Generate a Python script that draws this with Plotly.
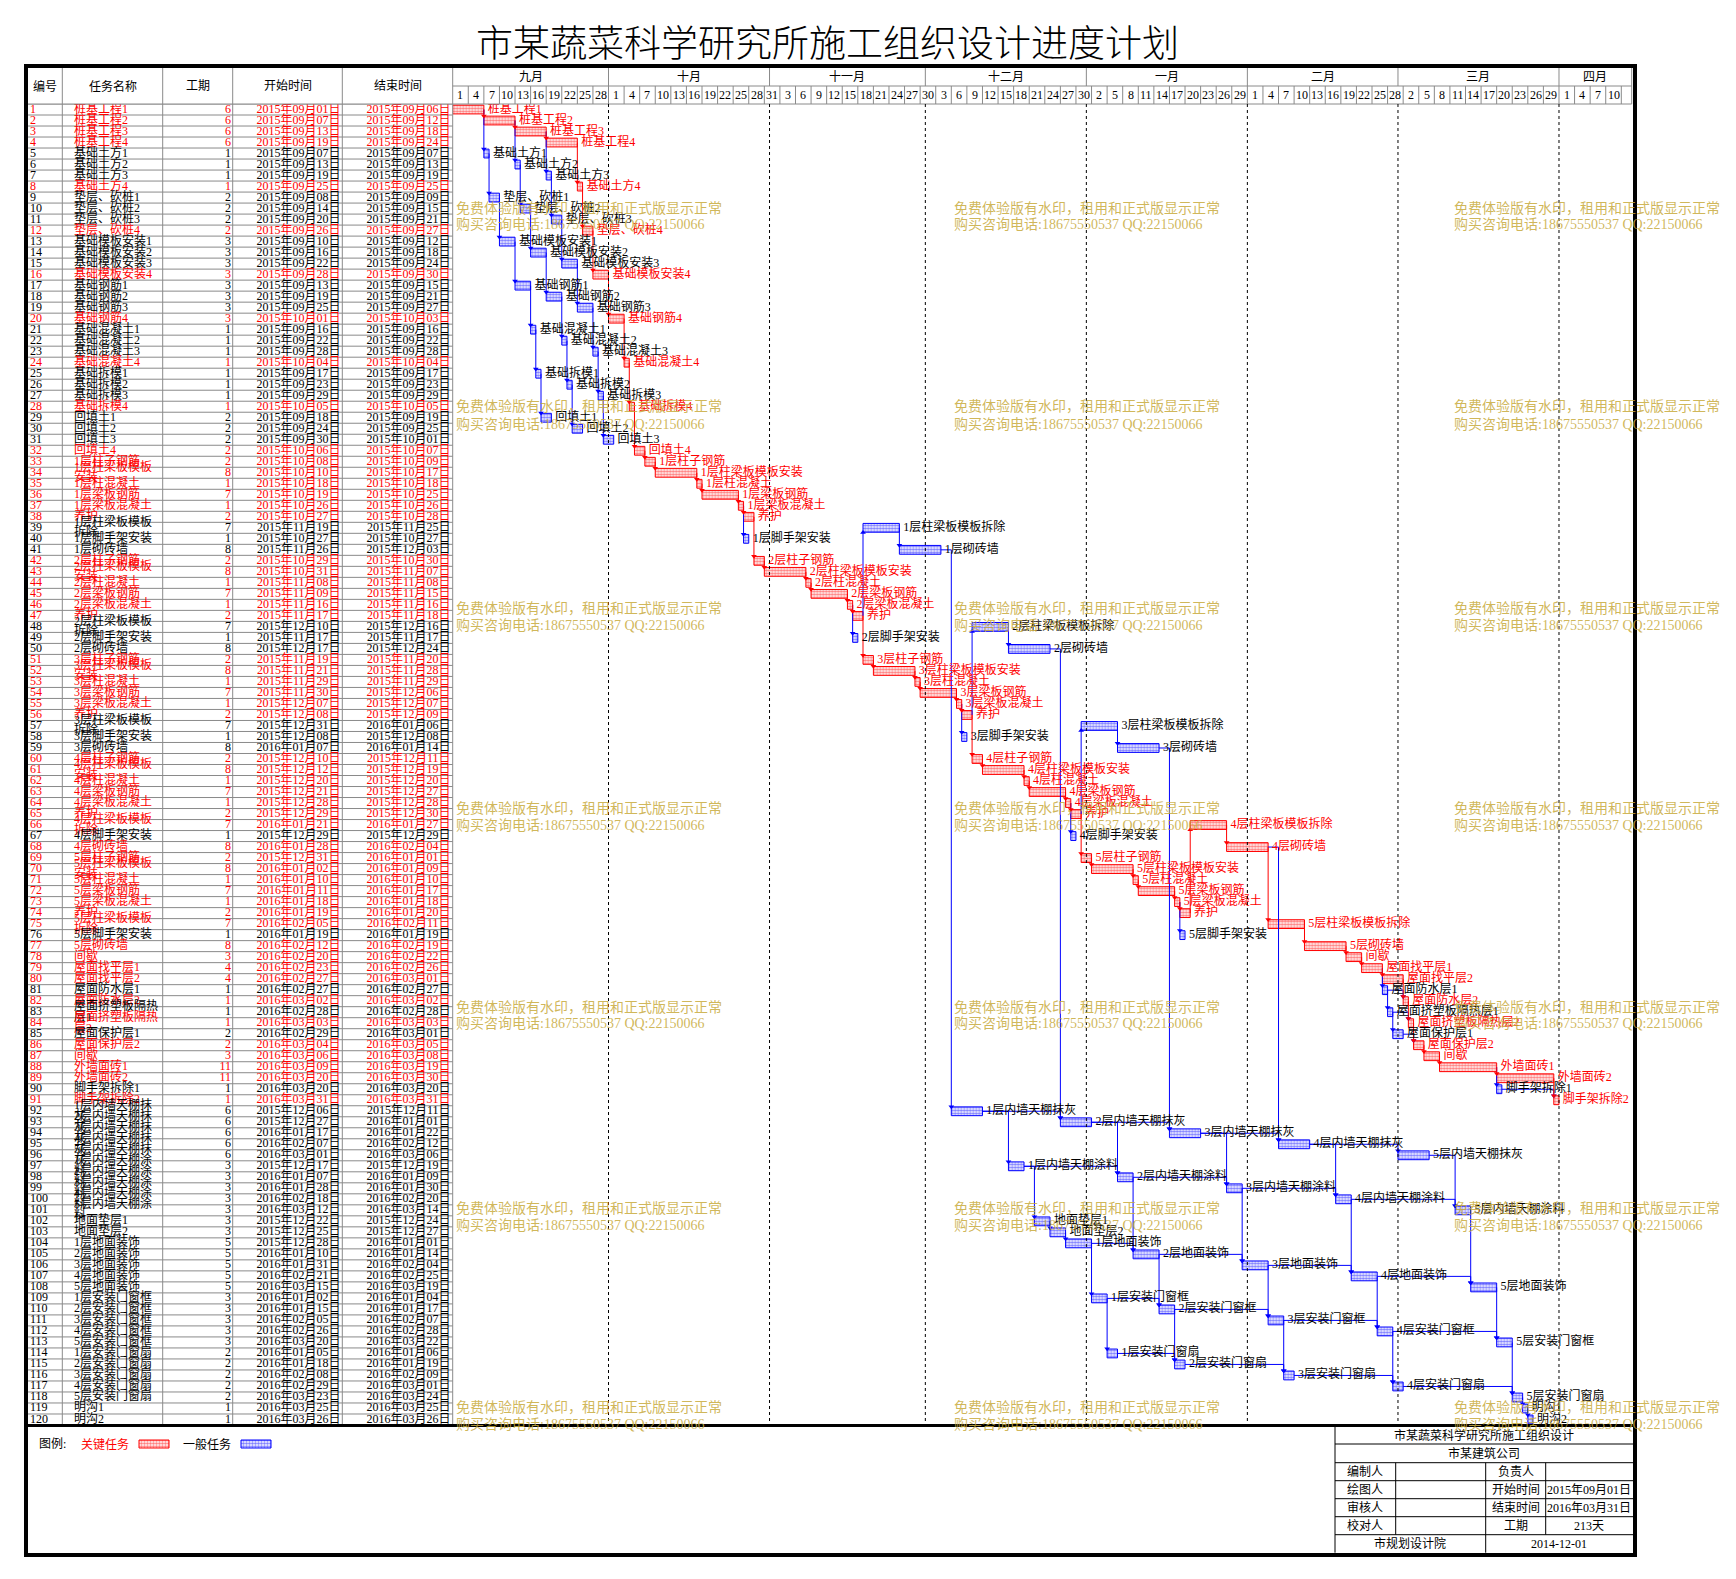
import plotly.graph_objects as go
from datetime import datetime, timedelta

# screen geometry: the page body has an 8px default margin
SCREEN_W, SCREEN_H = 1736, 1579
OFF = 8
W, H = SCREEN_W - 2 * OFF, SCREEN_H - 2 * OFF

# ---------------- data ----------------
task_ids = list(range(1, 121))
task_names = [
    "桩基工程1", "桩基工程2", "桩基工程3", "桩基工程4",
    "基础土方1", "基础土方2", "基础土方3", "基础土方4",
    "垫层、砍桩1", "垫层、砍桩2", "垫层、砍桩3", "垫层、砍桩4",
    "基础模板安装1", "基础模板安装2", "基础模板安装3", "基础模板安装4",
    "基础钢筋1", "基础钢筋2", "基础钢筋3", "基础钢筋4",
    "基础混凝土1", "基础混凝土2", "基础混凝土3", "基础混凝土4",
    "基础拆模1", "基础拆模2", "基础拆模3", "基础拆模4",
    "回填土1", "回填土2", "回填土3", "回填土4",
    "1层柱子钢筋", "1层柱梁板模板安装", "1层柱混凝土", "1层梁板钢筋", "1层梁板混凝土", "养护",
    "1层柱梁板模板拆除", "1层脚手架安装", "1层砌砖墙",
    "2层柱子钢筋", "2层柱梁板模板安装", "2层柱混凝土", "2层梁板钢筋", "2层梁板混凝土", "养护",
    "2层柱梁板模板拆除", "2层脚手架安装", "2层砌砖墙",
    "3层柱子钢筋", "3层柱梁板模板安装", "3层柱混凝土", "3层梁板钢筋", "3层梁板混凝土", "养护",
    "3层柱梁板模板拆除", "3层脚手架安装", "3层砌砖墙",
    "4层柱子钢筋", "4层柱梁板模板安装", "4层柱混凝土", "4层梁板钢筋", "4层梁板混凝土", "养护",
    "4层柱梁板模板拆除", "4层脚手架安装", "4层砌砖墙",
    "5层柱子钢筋", "5层柱梁板模板安装", "5层柱混凝土", "5层梁板钢筋", "5层梁板混凝土", "养护",
    "5层柱梁板模板拆除", "5层脚手架安装", "5层砌砖墙",
    "间歇", "屋面找平层1", "屋面找平层2", "屋面防水层1", "屋面防水层2",
    "屋面挤塑板隔热层1", "屋面挤塑板隔热层2", "屋面保护层1", "屋面保护层2", "间歇",
    "外墙面砖1", "外墙面砖2", "脚手架拆除1", "脚手架拆除2",
    "1层内墙天棚抹灰", "2层内墙天棚抹灰", "3层内墙天棚抹灰", "4层内墙天棚抹灰", "5层内墙天棚抹灰",
    "1层内墙天棚涂料", "2层内墙天棚涂料", "3层内墙天棚涂料", "4层内墙天棚涂料", "5层内墙天棚涂料",
    "地面垫层1", "地面垫层2",
    "1层地面装饰", "2层地面装饰", "3层地面装饰", "4层地面装饰", "5层地面装饰",
    "1层安装门窗框", "2层安装门窗框", "3层安装门窗框", "4层安装门窗框", "5层安装门窗框",
    "1层安装门窗扇", "2层安装门窗扇", "3层安装门窗扇", "4层安装门窗扇", "5层安装门窗扇",
    "明沟1", "明沟2",
]
durations = [
    6, 6, 6, 6, 1, 1, 1, 1, 2, 2, 2, 2, 3, 3, 3, 3, 3, 3, 3, 3,
    1, 1, 1, 1, 1, 1, 1, 1, 2, 2, 2, 2,
    2, 8, 1, 7, 1, 2, 7, 1, 8,
    2, 8, 1, 7, 1, 2, 7, 1, 8,
    2, 8, 1, 7, 1, 2, 7, 1, 8,
    2, 8, 1, 7, 1, 2, 7, 1, 8,
    2, 8, 1, 7, 1, 2, 7, 1, 8,
    3, 4, 4, 1, 1, 1, 1, 2, 2, 3, 11, 11, 1, 1,
    6, 6, 6, 6, 6, 3, 3, 3, 3, 3, 3, 3,
    5, 5, 5, 5, 5, 3, 3, 3, 3, 3, 2, 2, 2, 2, 2, 1, 1,
]
start_dates = [
    "2015-09-01", "2015-09-07", "2015-09-13", "2015-09-19",
    "2015-09-07", "2015-09-13", "2015-09-19", "2015-09-25",
    "2015-09-08", "2015-09-14", "2015-09-20", "2015-09-26",
    "2015-09-10", "2015-09-16", "2015-09-22", "2015-09-28",
    "2015-09-13", "2015-09-19", "2015-09-25", "2015-10-01",
    "2015-09-16", "2015-09-22", "2015-09-28", "2015-10-04",
    "2015-09-17", "2015-09-23", "2015-09-29", "2015-10-05",
    "2015-09-18", "2015-09-24", "2015-09-30", "2015-10-06",
    "2015-10-08", "2015-10-10", "2015-10-18", "2015-10-19", "2015-10-26", "2015-10-27", "2015-11-19", "2015-10-27", "2015-11-26",
    "2015-10-29", "2015-10-31", "2015-11-08", "2015-11-09", "2015-11-16", "2015-11-17", "2015-12-10", "2015-11-17", "2015-12-17",
    "2015-11-19", "2015-11-21", "2015-11-29", "2015-11-30", "2015-12-07", "2015-12-08", "2015-12-31", "2015-12-08", "2016-01-07",
    "2015-12-10", "2015-12-12", "2015-12-20", "2015-12-21", "2015-12-28", "2015-12-29", "2016-01-21", "2015-12-29", "2016-01-28",
    "2015-12-31", "2016-01-02", "2016-01-10", "2016-01-11", "2016-01-18", "2016-01-19", "2016-02-05", "2016-01-19", "2016-02-12",
    "2016-02-20", "2016-02-23", "2016-02-27", "2016-02-27", "2016-03-02", "2016-02-28", "2016-03-03",
    "2016-02-29", "2016-03-04", "2016-03-06", "2016-03-09", "2016-03-20", "2016-03-20", "2016-03-31",
    "2015-12-06", "2015-12-27", "2016-01-17", "2016-02-07", "2016-03-01",
    "2015-12-17", "2016-01-07", "2016-01-28", "2016-02-18", "2016-03-12",
    "2015-12-22", "2015-12-25",
    "2015-12-28", "2016-01-10", "2016-01-31", "2016-02-21", "2016-03-15",
    "2016-01-02", "2016-01-15", "2016-02-05", "2016-02-26", "2016-03-20",
    "2016-01-05", "2016-01-18", "2016-02-08", "2016-02-29", "2016-03-23",
    "2016-03-25", "2016-03-26",
]
end_dates = [
    "2015-09-06", "2015-09-12", "2015-09-18", "2015-09-24",
    "2015-09-07", "2015-09-13", "2015-09-19", "2015-09-25",
    "2015-09-09", "2015-09-15", "2015-09-21", "2015-09-27",
    "2015-09-12", "2015-09-18", "2015-09-24", "2015-09-30",
    "2015-09-15", "2015-09-21", "2015-09-27", "2015-10-03",
    "2015-09-16", "2015-09-22", "2015-09-28", "2015-10-04",
    "2015-09-17", "2015-09-23", "2015-09-29", "2015-10-05",
    "2015-09-19", "2015-09-25", "2015-10-01", "2015-10-07",
    "2015-10-09", "2015-10-17", "2015-10-18", "2015-10-25", "2015-10-26", "2015-10-28", "2015-11-25", "2015-10-27", "2015-12-03",
    "2015-10-30", "2015-11-07", "2015-11-08", "2015-11-15", "2015-11-16", "2015-11-18", "2015-12-16", "2015-11-17", "2015-12-24",
    "2015-11-20", "2015-11-28", "2015-11-29", "2015-12-06", "2015-12-07", "2015-12-09", "2016-01-06", "2015-12-08", "2016-01-14",
    "2015-12-11", "2015-12-19", "2015-12-20", "2015-12-27", "2015-12-28", "2015-12-30", "2016-01-27", "2015-12-29", "2016-02-04",
    "2016-01-01", "2016-01-09", "2016-01-10", "2016-01-17", "2016-01-18", "2016-01-20", "2016-02-11", "2016-01-19", "2016-02-19",
    "2016-02-22", "2016-02-26", "2016-03-01", "2016-02-27", "2016-03-02", "2016-02-28", "2016-03-03",
    "2016-03-01", "2016-03-05", "2016-03-08", "2016-03-19", "2016-03-30", "2016-03-20", "2016-03-31",
    "2015-12-11", "2016-01-01", "2016-01-22", "2016-02-12", "2016-03-06",
    "2015-12-19", "2016-01-09", "2016-01-30", "2016-02-20", "2016-03-14",
    "2015-12-24", "2015-12-27",
    "2016-01-01", "2016-01-14", "2016-02-04", "2016-02-25", "2016-03-19",
    "2016-01-04", "2016-01-17", "2016-02-07", "2016-02-28", "2016-03-22",
    "2016-01-06", "2016-01-19", "2016-02-09", "2016-03-01", "2016-03-24",
    "2016-03-25", "2016-03-26",
]
critical_ids = [1, 2, 3, 4, 8, 12, 16, 20, 24, 28, 32, 33, 34, 35, 36, 37, 38,
                42, 43, 44, 45, 46, 47, 51, 52, 53, 54, 55, 56,
                60, 61, 62, 63, 64, 65, 66, 68, 69, 70, 71, 72, 73, 74, 75, 77,
                78, 79, 80, 82, 84, 86, 87, 88, 89, 91]
# predecessor -> successor links
links = [
    (1, 2), (2, 3), (3, 4), (1, 5), (2, 6), (3, 7), (4, 8),
    (5, 9), (6, 10), (7, 11), (8, 12), (9, 13), (10, 14), (11, 15), (12, 16),
    (13, 17), (14, 18), (15, 19), (16, 20), (17, 21), (18, 22), (19, 23), (20, 24),
    (21, 25), (22, 26), (23, 27), (24, 28), (25, 29), (26, 30), (27, 31), (28, 32),
    (32, 33), (33, 34), (34, 35), (35, 36), (36, 37), (37, 38), (37, 40), (47, 39), (39, 41),
    (38, 42), (42, 43), (43, 44), (44, 45), (45, 46), (46, 47), (46, 49), (56, 48), (48, 50),
    (47, 51), (51, 52), (52, 53), (53, 54), (54, 55), (55, 56), (55, 58), (65, 57), (57, 59),
    (56, 60), (60, 61), (61, 62), (62, 63), (63, 64), (64, 65), (64, 67), (74, 66), (66, 68),
    (65, 69), (69, 70), (70, 71), (71, 72), (72, 73), (73, 74), (73, 76), (68, 75), (75, 77),
    (77, 78), (78, 79), (79, 80), (79, 81), (80, 82), (81, 82), (81, 83), (82, 84), (83, 84),
    (83, 85), (84, 86), (85, 86), (86, 87), (87, 88), (88, 89), (88, 90), (89, 91), (90, 91),
    (41, 92), (50, 93), (59, 94), (68, 95), (92, 93), (93, 94), (94, 95), (95, 96),
    (92, 97), (93, 98), (94, 99), (95, 100), (96, 101),
    (97, 98), (98, 99), (99, 100), (100, 101),
    (97, 102), (102, 103), (103, 104), (98, 105), (99, 106), (100, 107), (101, 108),
    (104, 105), (105, 106), (106, 107), (107, 108),
    (104, 109), (105, 110), (106, 111), (107, 112), (108, 113),
    (109, 110), (110, 111), (111, 112), (112, 113),
    (109, 114), (110, 115), (111, 116), (112, 117), (113, 118),
    (114, 115), (115, 116), (116, 117), (117, 118), (118, 119), (119, 120),
]
month_names = ["九月", "十月", "十一月", "十二月", "一月", "二月", "三月", "四月"]
month_starts = ["2015-09-01", "2015-10-01", "2015-11-01", "2015-12-01",
                "2016-01-01", "2016-02-01", "2016-03-01", "2016-04-01"]
AXIS_START, AXIS_END = "2015-09-01", "2016-04-15"
LAST_DAY_TICK = "2016-04-10"
header_cols = ["编号", "任务名称", "工期", "开始时间", "结束时间"]
legend_items = [("关键任务", "red"), ("一般任务", "blue")]
info_title = "市某蔬菜科学研究所施工组织设计"
info_company = "市某建筑公司"
info_left = ["编制人", "绘图人", "审核人", "校对人"]
info_mid = ["负责人", "开始时间", "结束时间", "工期"]
info_right = ["", "2015年09月01日", "2016年03月31日", "213天"]
info_bottom = ["市规划设计院", "2014-12-01"]
title_text = "市某蔬菜科学研究所施工组织设计进度计划"
wm_line1 = "免费体验版有水印，租用和正式版显示正常"
wm_line2 = "购买咨询电话:18675550537 QQ:22150066"

# ---------------- layout geometry (screen pixels) ----------------
COLS = [28, 62.3, 162.7, 232.7, 342.3, 452.7]
G_LEFT, G_RIGHT = 452.7, 1631.7
Y_HEAD_TOP, Y_MID, Y_HEAD_BOT, Y_BODY_BOT = 68, 86, 104, 1425
FONT = "Liberation Serif, Noto Sans CJK SC"
CJK = "Noto Sans CJK SC"
WM_COLOR = "rgba(200,170,60,0.85)"


def fx(p):
    return (p - OFF) / W


def fy(p):
    return 1 - (p - OFF) / H


def d(s):
    return datetime.strptime(s, "%Y-%m-%d")


def ds(dt):
    return dt.strftime("%Y-%m-%d")


def cn_date(s):
    dt = d(s)
    return f"{dt.year}年{dt.month:02d}月{dt.day:02d}日"


is_crit = {i: (i in critical_ids) for i in task_ids}
colors = ["red" if is_crit[i] else "black" for i in task_ids]
end_excl = [ds(d(e) + timedelta(days=1)) for e in end_dates]

fig = go.Figure()

# ---------------- table ----------------
gx, gy = [], []
for k in range(0, 121):
    gx += [COLS[0], COLS[-1], None]
    gy += [k + 0.5, k + 0.5, None]
fig.add_trace(go.Scatter(x=gx, y=gy, xaxis="x2", yaxis="y", mode="lines",
                         line=dict(color="#8a8a8a", width=1), hoverinfo="skip"))


def wrap_name(s, max_em=7.0):
    w = 0
    for i, ch in enumerate(s):
        cw = 0.5 if ord(ch) < 128 else 1.0
        if w + cw > max_em:
            return s[:i], s[i:]
        w += cw
    return s, None


NAME_X = 74
nx, ny, nt, nc = [], [], [], []
for i, name, c in zip(task_ids, task_names, colors):
    a, b = wrap_name(name)
    if b is None:
        nx.append(NAME_X); ny.append(i); nt.append(a); nc.append(c)
    else:
        nx += [NAME_X, NAME_X]; ny += [i - 0.45, i + 0.5]; nt += [a, b]; nc += [c, c]

fig.add_trace(go.Scatter(x=[30] * 120, y=task_ids, text=[str(i) for i in task_ids],
                         mode="text", textposition="middle right", xaxis="x2", yaxis="y",
                         textfont=dict(family=FONT, size=12, color=colors), hoverinfo="skip"))
fig.add_trace(go.Scatter(x=nx, y=ny, text=nt, mode="text", textposition="middle right",
                         xaxis="x2", yaxis="y", textfont=dict(family=FONT, size=12, color=nc),
                         hoverinfo="skip"))
fig.add_trace(go.Scatter(x=[231] * 120, y=task_ids, text=[str(v) for v in durations],
                         mode="text", textposition="middle left", xaxis="x2", yaxis="y",
                         textfont=dict(family=FONT, size=12, color=colors), hoverinfo="skip"))
fig.add_trace(go.Scatter(x=[340.5] * 120, y=task_ids, text=[cn_date(s) for s in start_dates],
                         mode="text", textposition="middle left", xaxis="x2", yaxis="y",
                         textfont=dict(family=FONT, size=12, color=colors), hoverinfo="skip"))
fig.add_trace(go.Scatter(x=[450.5] * 120, y=task_ids, text=[cn_date(s) for s in end_dates],
                         mode="text", textposition="middle left", xaxis="x2", yaxis="y",
                         textfont=dict(family=FONT, size=12, color=colors), hoverinfo="skip"))

# ---------------- links ----------------
for crit_flag, col in ((False, "blue"), (True, "red")):
    lx, ly, ax_, ay_, sym = [], [], [], [], []
    for p, s in links:
        if (is_crit[p] and is_crit[s]) != crit_flag:
            continue
        x0 = end_excl[p - 1]
        x1 = start_dates[s - 1]
        down = s > p
        yend = s - 0.42 if down else s + 0.42
        lx += [x0, x1, x1, None]
        ly += [p, p, yend, None]
        ax_.append(x1); ay_.append(yend)
        sym.append("triangle-down" if down else "triangle-up")
    fig.add_trace(go.Scatter(x=lx, y=ly, mode="lines", line=dict(color=col, width=1),
                             xaxis="x", yaxis="y", hoverinfo="skip"))
    fig.add_trace(go.Scatter(x=ax_, y=ay_, mode="markers", xaxis="x", yaxis="y",
                             marker=dict(symbol=sym, size=5, color=col, line=dict(width=0)),
                             hoverinfo="skip"))

# ---------------- bars ----------------
for crit_flag, col in ((False, "blue"), (True, "red")):
    idx = [k for k, i in enumerate(task_ids) if is_crit[i] == crit_flag]
    fig.add_trace(go.Bar(
        orientation="h",
        y=[task_ids[k] for k in idx],
        base=[start_dates[k] for k in idx],
        x=[(d(end_excl[k]) - d(start_dates[k])).total_seconds() * 1000 for k in idx],
        width=0.8, xaxis="x", yaxis="y",
        marker=dict(color=col, line=dict(color=col, width=1),
                    pattern=dict(shape=".", fgcolor=col, bgcolor="white", size=3, solidity=0.6)),
        hoverinfo="skip"))

# bar labels (placed a little to the right of each bar end)
label_x = [(d(e) + timedelta(hours=18)).strftime("%Y-%m-%d %H:%M") for e in end_excl]
fig.add_trace(go.Scatter(x=label_x, y=task_ids, text=task_names, mode="text",
                         textposition="middle right", xaxis="x", yaxis="y",
                         textfont=dict(family=FONT, size=12, color=colors), hoverinfo="skip"))

# ---------------- legend swatches (pixel axes) ----------------
for (lab, col), (bx0, bx1) in zip(legend_items, [(139, 169), (241, 271)]):
    fig.add_trace(go.Scatter(x=[bx0, bx1, bx1, bx0, bx0], y=[1440, 1440, 1448, 1448, 1440],
                             mode="lines", fill="toself", xaxis="x3", yaxis="y3",
                             line=dict(color=col, width=1), fillcolor="white",
                             fillpattern=dict(shape=".", fgcolor=col, bgcolor="white", size=3, solidity=0.6),
                             hoverinfo="skip"))

shapes = []
annotations = []


def line(x0, y0, x1, y1, color="#8a8a8a", width=1, dash=None, xref="paper"):
    sh = dict(type="line", xref=xref, yref="paper", x0=x0, x1=x1, y0=fy(y0), y1=fy(y1),
              line=dict(color=color, width=width))
    if dash:
        sh["line"]["dash"] = dash
    shapes.append(sh)


def txt(x, y, s, size=12, color="black", anchor="center", family=FONT, xref="paper", weight=None):
    f = dict(family=family, size=size, color=color)
    if weight:
        f["weight"] = weight
    annotations.append(dict(x=fx(x) if xref == "paper" else x, y=fy(y), xref=xref, yref="paper",
                            text=s, showarrow=False, xanchor=anchor, yanchor="middle", font=f))


# table column lines + header lines
for c in COLS[1:]:
    line(fx(c), Y_HEAD_TOP, fx(c), Y_BODY_BOT)
line(fx(COLS[0]), Y_HEAD_BOT, fx(G_RIGHT), Y_HEAD_BOT)
line(fx(G_LEFT), Y_MID, fx(G_RIGHT), Y_MID)
line(fx(G_RIGHT), Y_HEAD_TOP, fx(G_RIGHT), Y_HEAD_BOT)

# header titles
for name, c0, c1 in zip(header_cols, COLS[:-1], COLS[1:]):
    txt((c0 + c1) / 2, 86, name)

# months
for k, (mn, ms) in enumerate(zip(month_names, month_starts)):
    m0 = d(ms)
    m1 = d(month_starts[k + 1]) if k + 1 < len(month_starts) else d(AXIS_END)
    mid = m0 + (m1 - m0) / 2
    txt(mid.strftime("%Y-%m-%d %H:%M"), 77, mn, xref="x")
    if k > 0:
        line(ms, Y_HEAD_TOP, ms, Y_MID, xref="x")
        line(ms, Y_HEAD_BOT, ms, Y_BODY_BOT, color="black", width=1, dash="dot", xref="x")

# day cells
t = d(AXIS_START)
while t <= d(LAST_DAY_TICK):
    mid = t + timedelta(hours=36)
    txt(mid.strftime("%Y-%m-%d %H:%M"), 95, str(t.day), xref="x")
    nt_ = t + timedelta(days=3)
    line(ds(nt_), Y_MID, ds(nt_), Y_HEAD_BOT, xref="x")
    t = nt_

# outer frame and bottom line
shapes.append(dict(type="rect", xref="paper", yref="paper", x0=fx(26), x1=fx(1635), y0=fy(66), y1=fy(1555),
                   line=dict(color="black", width=4)))
line(fx(26), 1425.5, fx(1635), 1425.5, color="black", width=3)

# bottom-right info block
BX = [1335, 1395.7, 1485.7, 1545.7, 1633]
BY = [1426, 1444, 1462.7, 1480.7, 1498.7, 1516.7, 1534.7, 1552.7]
line(fx(BX[0]), BY[0], fx(BX[0]), BY[-1], color="black")
for yy in BY[1:-1]:
    line(fx(BX[0]), yy, fx(BX[-1]), yy, color="black")
for xx in (BX[1], BX[3]):
    line(fx(xx), BY[2], fx(xx), BY[6], color="black")
line(fx(BX[2]), BY[2], fx(BX[2]), BY[7], color="black")

txt((BX[0] + BX[-1]) / 2, (BY[0] + BY[1]) / 2, info_title)
txt((BX[0] + BX[-1]) / 2, (BY[1] + BY[2]) / 2, info_company)
for r in range(4):
    yc = (BY[2 + r] + BY[3 + r]) / 2
    txt((BX[0] + BX[1]) / 2, yc, info_left[r])
    txt((BX[2] + BX[3]) / 2, yc, info_mid[r])
    if info_right[r]:
        txt((BX[3] + BX[4]) / 2, yc, info_right[r])
txt((BX[0] + BX[2]) / 2, (BY[6] + BY[7]) / 2, info_bottom[0])
txt((BX[2] + BX[4]) / 2, (BY[6] + BY[7]) / 2, info_bottom[1])

# legend texts
txt(37, 1444, "图例:", anchor="left")
txt(79, 1444, legend_items[0][0], color="red", anchor="left")
txt(181, 1444, legend_items[1][0], color="black", anchor="left")

# title
txt(827, 41, title_text, size=37, family=CJK, weight=300)

# watermarks
for wx in (454, 952, 1452):
    for wy in (208, 407, 608, 808, 1007, 1208, 1407):
        txt(wx, wy, wm_line1, size=14, color=WM_COLOR, anchor="left", family=FONT)
        txt(wx, wy + 17, wm_line2, size=14, color=WM_COLOR, anchor="left", family=FONT)

hidden = dict(visible=False, showgrid=False, zeroline=False, fixedrange=True)
fig.update_layout(
    width=W, height=H, margin=dict(l=0, r=0, t=0, b=0), autosize=False,
    paper_bgcolor="white", plot_bgcolor="rgba(0,0,0,0)", showlegend=False,
    barmode="overlay",
    xaxis=dict(type="date", domain=[fx(G_LEFT), fx(G_RIGHT)], range=[AXIS_START, AXIS_END],
               anchor="y", **hidden),
    yaxis=dict(domain=[fy(Y_BODY_BOT), fy(Y_HEAD_BOT)], range=[120.5, 0.5], anchor="x", **hidden),
    xaxis2=dict(domain=[0, 1], range=[OFF, OFF + W], anchor="y", **hidden),
    xaxis3=dict(domain=[0, 1], range=[OFF, OFF + W], anchor="y3", **hidden),
    yaxis3=dict(domain=[0, 1], range=[OFF + H, OFF], anchor="x3", **hidden),
    shapes=shapes, annotations=annotations,
)

fig.write_html("out.html")
